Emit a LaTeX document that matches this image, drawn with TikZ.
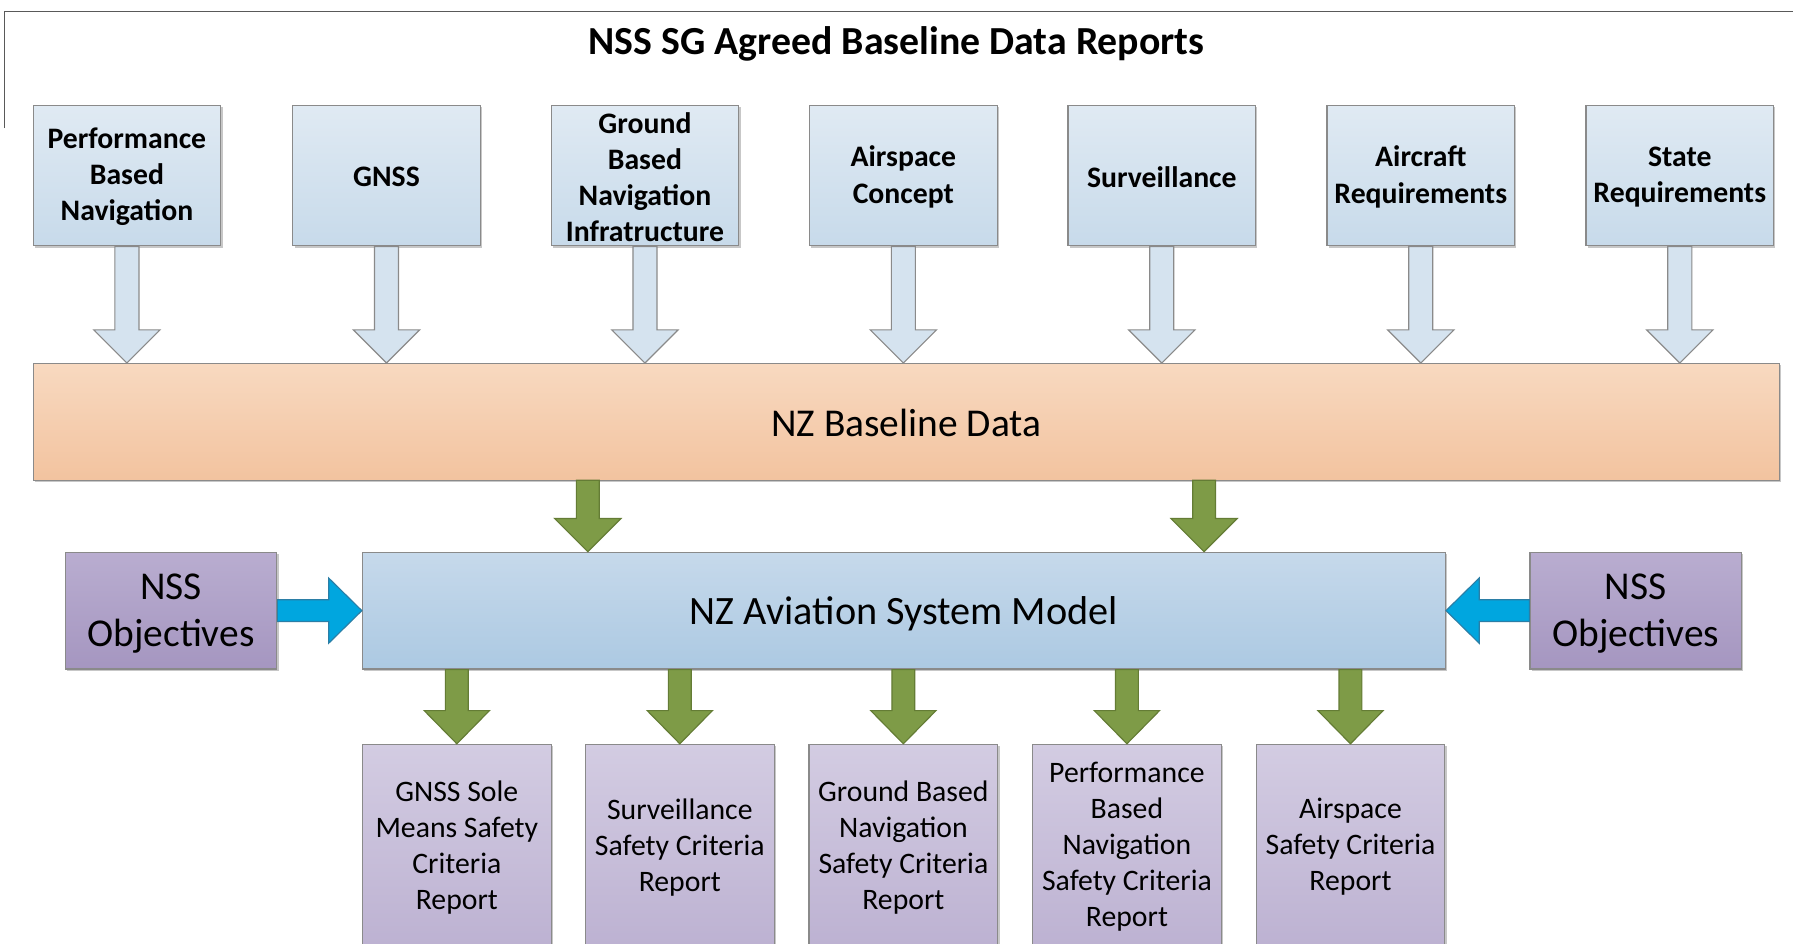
\documentclass[tikz,border=0pt]{standalone}
\usepackage{fontspec}
\setmainfont{Carlito}
\usetikzlibrary{calc,shadows}
\definecolor{bordergray}{HTML}{8A8A8A}
\definecolor{topA}{HTML}{E0EAF3}
\definecolor{topB}{HTML}{C7DAEA}
\definecolor{orA}{HTML}{F8D9C0}
\definecolor{orB}{HTML}{F2C39F}
\definecolor{modA}{HTML}{C6D9EB}
\definecolor{modB}{HTML}{ACC9E2}
\definecolor{purA}{HTML}{B9ADD0}
\definecolor{purB}{HTML}{A596C0}
\definecolor{repA}{HTML}{D3CCE2}
\definecolor{repB}{HTML}{BDB2D2}
\definecolor{hollowfill}{HTML}{D5E3EF}
\definecolor{greenfill}{HTML}{7E9B47}
\definecolor{greenline}{HTML}{647C35}
\definecolor{bluefill}{HTML}{00A6DF}
\definecolor{blueline}{HTML}{2B7EA6}
\definecolor{framegray}{HTML}{595959}
\newcommand{\fatdown}[6]{%
  \path[#1] let \p1=(#2), \p2=(#3) in
    (\x1-#4pt,\y1) -- (\x1+#4pt,\y1) -- (\x1+#4pt,\y2+#6pt) -- (\x1+#5pt,\y2+#6pt)
    -- (\x1,\y2) -- (\x1-#5pt,\y2+#6pt) -- (\x1-#4pt,\y2+#6pt) -- cycle;}
\newcommand{\fatright}[6]{%
  \path[#1] let \p1=(#2), \p2=(#3) in
    (\x1,\y1-#4pt) -- (\x2-#6pt,\y1-#4pt) -- (\x2-#6pt,\y1-#5pt) -- (\x2,\y1)
    -- (\x2-#6pt,\y1+#5pt) -- (\x2-#6pt,\y1+#4pt) -- (\x1,\y1+#4pt) -- cycle;}
\newcommand{\fatleft}[6]{%
  \path[#1] let \p1=(#2), \p2=(#3) in
    (\x1,\y1-#4pt) -- (\x2+#6pt,\y1-#4pt) -- (\x2+#6pt,\y1-#5pt) -- (\x2,\y1)
    -- (\x2+#6pt,\y1+#5pt) -- (\x2+#6pt,\y1+#4pt) -- (\x1,\y1+#4pt) -- cycle;}
\begin{document}
\begin{tikzpicture}[x=1pt,y=-1pt,
  softshadow/.style={drop shadow={shadow xshift=1.6pt,shadow yshift=-1.6pt,fill=black,opacity=0.22}},
  basebox/.style={draw=bordergray,line width=1.1pt,inner sep=0pt,softshadow},
  srclabel/.style={font=\fontsize{26}{31.5}\selectfont\bfseries,align=center,inner sep=0pt,yshift=-1.2pt},
  biglabel/.style={font=\fontsize{34.5}{41}\selectfont,align=center,inner sep=0pt,yshift=-2.8pt},
  replabel/.style={font=\fontsize{26}{31.5}\selectfont,align=center,inner sep=0pt,yshift=-2.3pt},
  srcbox/.style={basebox,top color=topA,bottom color=topB,minimum width=164pt,minimum height=123pt,
    label={[srclabel]center:{#1}}},
  databar/.style={basebox,top color=orA,bottom color=orB,minimum width=1527pt,minimum height=102pt,
    label={[biglabel,yshift=2pt]center:{#1}}},
  modelbox/.style={basebox,top color=modA,bottom color=modB,minimum width=947pt,minimum height=102pt,
    label={[biglabel,font=\fontsize{35.2}{41}\selectfont]center:{#1}}},
  objbox/.style={basebox,top color=purA,bottom color=purB,minimum width=185pt,minimum height=102pt,
    label={[biglabel]center:{#1}}},
  repbox/.style={basebox,top color=repA,bottom color=repB,minimum width=165pt,minimum height=175pt,
    label={[replabel]center:{#1}}},
  hollowarrow/.style={fill=hollowfill,draw=bordergray,line width=1pt},
  greenarrow/.style={fill=greenfill,draw=greenline,line width=1pt},
  bluearrow/.style={fill=bluefill,draw=blueline,line width=1pt},
  frameline/.style={draw=framegray,line width=1.1pt},
  titletext/.style={font=\fontsize{34.8}{40}\selectfont\bfseries,inner sep=0pt}
]
\useasboundingbox (0,0) rectangle (1568,825);
\clip (0,0) rectangle (1568,825);
\fill[white] (0,0) rectangle (1568,825);

% frame
\coordinate (fa) at (4,112);
\coordinate (fb) at (4,10);
\coordinate (fc) at (1568,10);
\draw[frameline] (fa) -- (fb) -- (fc);
\node[titletext] (title) at (784,38.5) {NSS SG Agreed Baseline Data Reports};

% source boxes
\node[srcbox={Performance\\Based\\Navigation}] (pbn) at (111,153.5) {};
\node[srcbox={GNSS}] (gnss) at (338,153.5) {};
\node[srcbox={Ground\\Based\\Navigation\\Infratructure}] (gbni) at (564,153.5) {};
\node[srcbox={Airspace\\Concept}] (asc) at (790,153.5) {};
\node[srcbox={Surveillance}] (surv) at (1016,153.5) {};
\node[srcbox={Aircraft\\Requirements}] (acr) at (1242.5,153.5) {};
\node[srcbox={State\\Requirements}] (str) at (1469,153.5) {};

% baseline bar
\node[databar={NZ Baseline Data}] (base) at (792.5,369) {};

% model and objectives
\node[modelbox={NZ Aviation System Model}] (model) at (790.5,534) {};
\node[objbox={NSS\\Objectives}] (objL) at (149.5,534) {};
\node[objbox={NSS\\Objectives}] (objR) at (1430.5,534) {};

% report boxes
\node[repbox={GNSS Sole\\Means Safety\\Criteria\\Report}] (r1) at (399.5,738.5) {};
\node[repbox={Surveillance\\Safety Criteria\\Report}] (r2) at (594.5,738.5) {};
\node[repbox={Ground Based\\Navigation\\Safety Criteria\\Report}] (r3) at (790,738.5) {};
\node[repbox={Performance\\Based\\Navigation\\Safety Criteria\\Report}] (r4) at (985.5,738.5) {};
\node[repbox={Airspace\\Safety Criteria\\Report}] (r5) at (1181,738.5) {};

% hollow arrows into baseline
\foreach \s in {pbn,gnss,gbni,asc,surv,acr,str}{
  \fatdown{hollowarrow}{\s.south}{base.north}{10.5}{29}{29}
}

% green arrows baseline -> model
\coordinate (g1) at (514,420);
\coordinate (g2) at (1053,420);
\fatdown{greenarrow}{g1}{model.north}{10}{29}{29}
\fatdown{greenarrow}{g2}{model.north}{10}{29}{29}

% green arrows model -> reports
\foreach \r in {r1,r2,r3,r4,r5}{
  \fatdown{greenarrow}{model.south -| \r.north}{\r.north}{10}{28.5}{29}
}

% blue arrows objectives -> model
\fatright{bluearrow}{objL.east}{model.west}{9.5}{28.5}{29}
\fatleft{bluearrow}{objR.west}{model.east}{9.5}{28.5}{29}
\end{tikzpicture}
\end{document}
